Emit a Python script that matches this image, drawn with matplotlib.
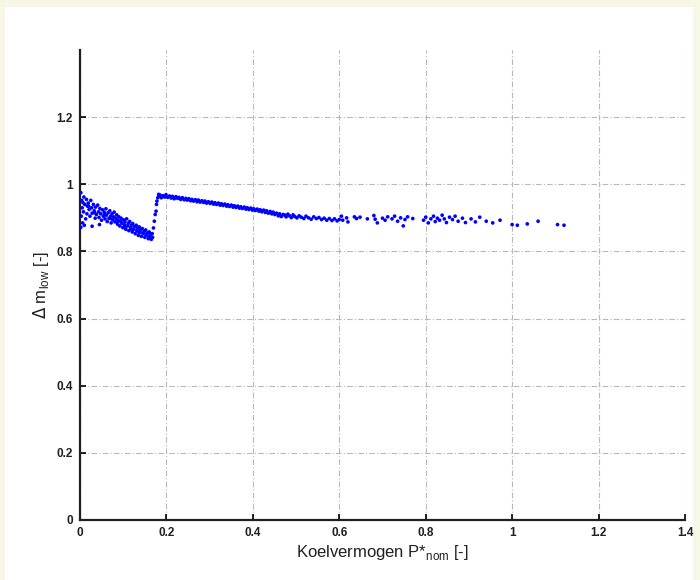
import matplotlib
matplotlib.use("Agg")
import matplotlib.pyplot as plt
from matplotlib.patches import Rectangle
from matplotlib.ticker import FuncFormatter

# Segment 1: falling band (low cooling power)
x1 = [0.002, 0.004, 0.005, 0.003, 0.006, 0.002, 0.009, 0.011, 0.008, 0.013, 0.010, 0.015, 0.017, 0.016,
      0.019, 0.021, 0.023, 0.025, 0.027, 0.028, 0.031, 0.033, 0.035, 0.036, 0.038, 0.041, 0.043, 0.044,
      0.046, 0.048, 0.050, 0.052, 0.054, 0.056, 0.058, 0.060, 0.061, 0.063, 0.065, 0.067, 0.069, 0.071,
      0.072, 0.074, 0.076, 0.078, 0.079, 0.081, 0.083, 0.085, 0.087, 0.088, 0.090, 0.092, 0.094, 0.095,
      0.097, 0.099, 0.101, 0.103, 0.104, 0.106, 0.108, 0.110, 0.112, 0.113, 0.115, 0.117, 0.119, 0.121,
      0.122, 0.124, 0.126, 0.128, 0.130, 0.131, 0.133, 0.135, 0.137, 0.139, 0.140, 0.142, 0.144, 0.146,
      0.148, 0.150, 0.152, 0.154, 0.156, 0.158, 0.160, 0.161, 0.163, 0.165, 0.167, 0.168, 0.028, 0.045,
      0.007, 0.020, 0.034, 0.057, 0.070, 0.086, 0.105, 0.118, 0.136, 0.153]
y1 = [0.975, 0.952, 0.930, 0.905, 0.885, 0.872, 0.962, 0.940, 0.918, 0.897, 0.878, 0.955, 0.935, 0.912,
      0.944, 0.925, 0.905, 0.952, 0.930, 0.914, 0.940, 0.921, 0.899, 0.932, 0.910, 0.938, 0.918, 0.901,
      0.928, 0.912, 0.893, 0.924, 0.905, 0.917, 0.897, 0.927, 0.908, 0.889, 0.915, 0.899, 0.921, 0.905,
      0.885, 0.912, 0.894, 0.903, 0.917, 0.888, 0.899, 0.909, 0.881, 0.893, 0.903, 0.876, 0.889, 0.899,
      0.884, 0.871, 0.894, 0.879, 0.888, 0.866, 0.897, 0.876, 0.884, 0.862, 0.889, 0.871, 0.878, 0.858,
      0.883, 0.866, 0.874, 0.853, 0.878, 0.862, 0.869, 0.848, 0.873, 0.857, 0.864, 0.845, 0.868, 0.853,
      0.859, 0.842, 0.864, 0.848, 0.855, 0.838, 0.858, 0.845, 0.851, 0.836, 0.853, 0.842, 0.875, 0.880,
      0.945, 0.935, 0.915, 0.910, 0.898, 0.888, 0.872, 0.866, 0.858, 0.850]

# Jump between regimes
x2 = [0.170, 0.172, 0.174, 0.176, 0.177, 0.178, 0.180, 0.182, 0.183]
y2 = [0.870, 0.890, 0.910, 0.920, 0.940, 0.950, 0.960, 0.970, 0.965]

# Segment 2: dense slowly falling band
x3 = [0.185, 0.188, 0.192, 0.196, 0.199, 0.203, 0.207, 0.211, 0.214, 0.218, 0.222, 0.226, 0.229, 0.233,
      0.237, 0.241, 0.245, 0.248, 0.252, 0.256, 0.259, 0.263, 0.267, 0.271, 0.274, 0.278, 0.282, 0.286,
      0.289, 0.293, 0.297, 0.301, 0.305, 0.309, 0.312, 0.316, 0.320, 0.324, 0.327, 0.331, 0.335, 0.339,
      0.342, 0.346, 0.350, 0.354, 0.357, 0.361, 0.365, 0.369, 0.372, 0.376, 0.380, 0.384, 0.387, 0.391,
      0.395, 0.399, 0.402, 0.406, 0.410, 0.414, 0.417, 0.421, 0.425, 0.429, 0.432, 0.436, 0.440, 0.444,
      0.447, 0.451, 0.455, 0.459, 0.462, 0.466, 0.470, 0.474, 0.477, 0.481, 0.485, 0.489, 0.493, 0.497,
      0.502, 0.507, 0.512, 0.518, 0.523, 0.529, 0.535, 0.541, 0.547, 0.553, 0.559, 0.565, 0.571, 0.577,
      0.583, 0.589, 0.595, 0.600]
y3 = [0.968, 0.960, 0.966, 0.962, 0.969, 0.961, 0.965, 0.959, 0.964, 0.957, 0.963, 0.958, 0.961, 0.955,
      0.960, 0.954, 0.958, 0.953, 0.957, 0.951, 0.955, 0.950, 0.954, 0.948, 0.953, 0.947, 0.951, 0.946,
      0.950, 0.944, 0.948, 0.943, 0.947, 0.941, 0.945, 0.940, 0.944, 0.938, 0.942, 0.937, 0.941, 0.935,
      0.939, 0.934, 0.938, 0.932, 0.936, 0.931, 0.935, 0.929, 0.933, 0.928, 0.932, 0.926, 0.930, 0.925,
      0.929, 0.923, 0.927, 0.922, 0.926, 0.920, 0.924, 0.918, 0.923, 0.916, 0.921, 0.914, 0.919, 0.912,
      0.917, 0.910, 0.914, 0.906, 0.912, 0.904, 0.910, 0.908, 0.903, 0.911, 0.906, 0.901, 0.909, 0.904,
      0.900, 0.906, 0.902, 0.898, 0.905, 0.900, 0.896, 0.903, 0.898, 0.901, 0.895, 0.899, 0.893, 0.898,
      0.892, 0.897, 0.891, 0.895]

# Segment 3: sparse tail
x4 = [0.605, 0.608, 0.617, 0.620, 0.635, 0.640, 0.648, 0.665, 0.680, 0.683, 0.688, 0.700, 0.706, 0.712,
      0.722, 0.728, 0.735, 0.742, 0.748, 0.752, 0.758, 0.770, 0.795, 0.800, 0.806, 0.812, 0.818, 0.822,
      0.827, 0.832, 0.838, 0.843, 0.848, 0.855, 0.862, 0.868, 0.875, 0.885, 0.892, 0.905, 0.915, 0.925,
      0.940, 0.955, 0.972, 1.000, 1.012, 1.035, 1.060, 1.105, 1.120]
y4 = [0.905, 0.893, 0.900, 0.888, 0.903, 0.898, 0.902, 0.897, 0.907, 0.896, 0.885, 0.899, 0.893, 0.903,
      0.897, 0.905, 0.890, 0.900, 0.876, 0.895, 0.903, 0.898, 0.893, 0.902, 0.885, 0.897, 0.905, 0.889,
      0.899, 0.893, 0.908, 0.897, 0.886, 0.902, 0.895, 0.905, 0.890, 0.899, 0.886, 0.897, 0.888, 0.902,
      0.890, 0.885, 0.893, 0.880, 0.878, 0.882, 0.890, 0.880, 0.878]

x_ticks = [0, 0.2, 0.4, 0.6, 0.8, 1.0, 1.2, 1.4]
y_ticks = [0, 0.2, 0.4, 0.6, 0.8, 1.0, 1.2]

plt.rcParams['font.family'] = ['Liberation Sans', 'DejaVu Sans']

fig = plt.figure(figsize=(7, 5.8), dpi=100, facecolor='#f7f7e6')
fig.patches.append(Rectangle((5/700, 0), (693-5)/700, 1 - 7/580, transform=fig.transFigure,
                             facecolor='white', edgecolor='none', zorder=-10))
ax = fig.add_axes([80/700, 60/580, 605/700, 470/580])
ax.set_facecolor('white')

for xs, ys in [(x1, y1), (x2, y2), (x3, y3), (x4, y4)]:
    ax.scatter(xs, ys, s=7, marker='o', color='#0000ff', edgecolors='none', zorder=3)

ax.set_xlim(0, 1.4)
ax.set_ylim(0, 1.4)
ax.set_xticks(x_ticks)
ax.set_yticks(y_ticks)
fmt = FuncFormatter(lambda v, p: ('%g' % v))
ax.xaxis.set_major_formatter(fmt)
ax.yaxis.set_major_formatter(fmt)
ax.grid(True, color='#b8b8b8', linestyle=(0, (5, 2, 1, 2)), linewidth=0.8)
ax.set_axisbelow(True)
for s in ['top', 'right']:
    ax.spines[s].set_visible(False)
for s in ['left', 'bottom']:
    ax.spines[s].set_linewidth(1.6)
    ax.spines[s].set_color('#202020')
ax.tick_params(direction='in', length=4, width=1.2, labelsize=8.5, pad=5)
for lab in ax.get_xticklabels() + ax.get_yticklabels():
    lab.set_fontweight('bold')
    lab.set_color('#202020')

ax.set_xlabel(r'Koelvermogen P*$_{\mathregular{nom}}$ [-]', fontsize=12, labelpad=3, color='#202020')
ax.set_ylabel(r'$\Delta$ m$_{\mathregular{low}}$ [-]', fontsize=12, labelpad=4, color='#202020')

fig.savefig('out.png', dpi=100, facecolor=fig.get_facecolor())
